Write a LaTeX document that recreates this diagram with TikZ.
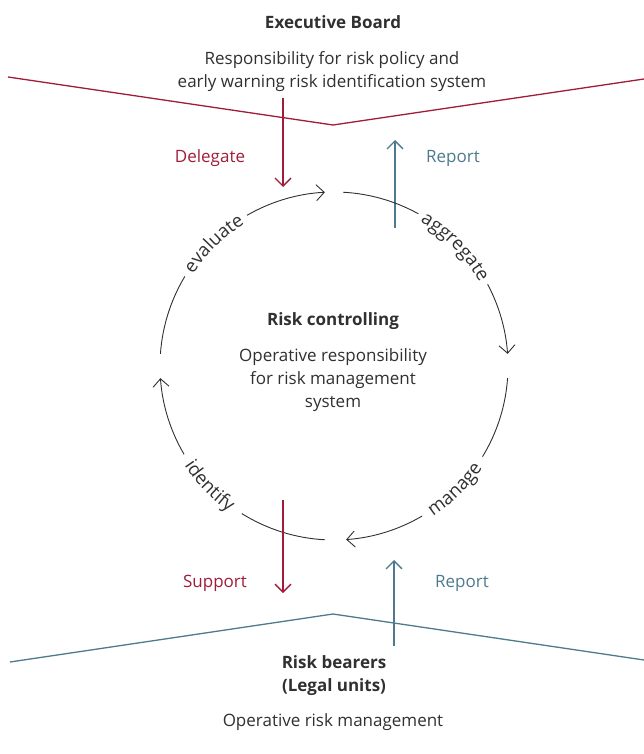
\documentclass[tikz,border=0pt]{standalone}
\usepackage{fontspec}
\setmainfont{Open Sans}
\usepackage{tikz}
\usetikzlibrary{arrows.meta, positioning, calc, decorations.text}

\definecolor{riskred}{HTML}{A01C38}
\definecolor{riskblue}{HTML}{4E7A8E}
\definecolor{txtgray}{HTML}{303030}

\newcommand{\bodyfont}{\fontsize{17}{23}\selectfont}
\newcommand{\arcfont}{\fontsize{18.5}{22}\selectfont}

\tikzset{
    body/.style={font=\bodyfont, text=txtgray, align=center, inner sep=0pt},
    head/.style={body, font=\bodyfont\bfseries},
    redline/.style={draw=riskred, line width=1.3pt},
    blueline/.style={draw=riskblue, line width=1.3pt},
    flowtip/.style={-{Straight Barb[length=8pt,width=16pt]}},
    ring/.style={draw=txtgray, line width=0.9pt},
}

\begin{document}
\begin{tikzpicture}[x=1pt, y=1pt]
    \useasboundingbox (0,0) rectangle (644,-754);

    % Executive Board
    \node[head] (board) at (333,-22) {Executive Board};
    \node[body] (boardtxt) at (332,-71.5) {Responsibility for risk policy and\\early warning risk identification system};
    \coordinate (rl) at (8,-77);
    \coordinate (rv) at (333,-125);
    \coordinate (rr) at (644,-79);
    \draw[redline] (rl) -- (rv) -- (rr);

    % Delegate / Report (oben)
    \coordinate (dtop) at (283,-98);
    \coordinate (dbot) at (283,-187);
    \draw[redline, flowtip] (dtop) -- (dbot);
    \node[body, text=riskred] (delegate) at (210,-158) {Delegate};
    \coordinate (utop) at (395,-140);
    \coordinate (ubot) at (395,-228);
    \draw[blueline, flowtip] (ubot) -- (utop);
    \node[body, text=riskblue] (reportup) at (453,-158) {Report};

    % Kreislauf
    \coordinate (c) at (334,-366);
    \foreach \a/\b/\e/\f in {176/149/120/93, 87/61/28/4, -4/-31.4/-59.6/-86, -93/-122/-149.5/-176}{
        \draw[ring] (c) ++(\a:174) arc[start angle=\a, end angle=\b, radius=174];
        \draw[ring, flowtip] (c) ++(\e:174) arc[start angle=\e, end angle=\f, radius=174];
    }
    \path[decorate, decoration={text along path, text align=center, text color=txtgray, text={|\arcfont|evaluate}}]
        (c) ++(154:168) arc[start angle=154, end angle=115, radius=168];
    \path[decorate, decoration={text along path, text align=center, text color=txtgray, text={|\arcfont|aggregate}}]
        (c) ++(66:168) arc[start angle=66, end angle=23, radius=168];
    \path[decorate, decoration={text along path, text align=center, text color=txtgray, text={|\arcfont|manage}}]
        (c) ++(-65:180) arc[start angle=-65, end angle=-26, radius=180];
    \path[decorate, decoration={text along path, text align=center, text color=txtgray, text={|\arcfont|identify}}]
        (c) ++(-155:180) arc[start angle=-155, end angle=-117, radius=180];

    % Risk controlling
    \node[head] (ctrl) at (333,-321) {Risk controlling};
    \node[body] (ctrltxt) at (333,-380) {Operative responsibility\\for risk management\\system};

    % Support / Report (unten)
    \coordinate (stop) at (283,-500);
    \coordinate (sbot) at (283,-593);
    \draw[redline, flowtip] (stop) -- (sbot);
    \node[body, text=riskred] (support) at (215,-583) {Support};
    \coordinate (btop) at (394,-560);
    \coordinate (bbot) at (394,-646);
    \draw[blueline, flowtip] (bbot) -- (btop);
    \node[body, text=riskblue] (reportdown) at (462,-583) {Report};

    % Risk bearers
    \coordinate (bl) at (10,-662);
    \coordinate (bv) at (333,-614);
    \coordinate (br) at (644,-660);
    \draw[blueline] (bl) -- (bv) -- (br);
    \node[head] (bearers) at (334,-675.5) {Risk bearers\\(Legal units)};
    \node[body] (bearerstxt) at (333,-722) {Operative risk management};
\end{tikzpicture}
\end{document}
